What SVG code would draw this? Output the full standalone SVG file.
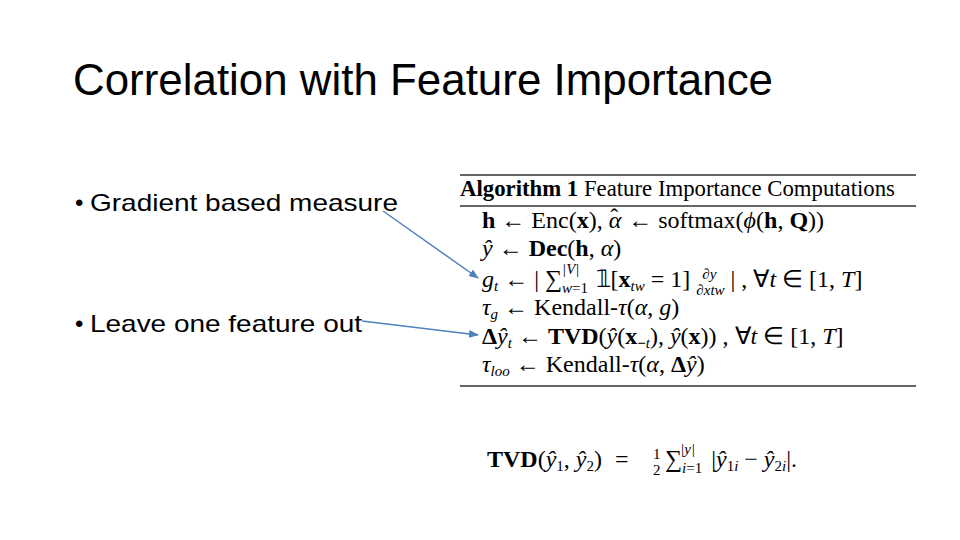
<svg xmlns="http://www.w3.org/2000/svg" width="960" height="540" viewBox="0 0 960 540">
<style>
.s{font-family:"Liberation Sans",Arial,sans-serif;fill:#000}
.m{font-family:"Liberation Serif","Times New Roman",serif;fill:#000;font-size:24px}
.i{font-style:italic}
.b{font-weight:bold}
.sub{font-size:15px}
.rule{stroke:#333;stroke-width:1.5}
.conn{stroke:#4f81bd;stroke-width:1.5;fill:none;marker-end:url(#ah)}
</style>
<defs>
<marker id="ah" markerWidth="10" markerHeight="8" refX="9" refY="4" orient="auto" markerUnits="userSpaceOnUse">
<path d="M0,0 L10,4 L0,8 Z" fill="#4f81bd"/>
</marker>
</defs>
<rect width="960" height="540" fill="#fff"/>
<g id="title"><text class="s" x="73" y="95" font-size="44" textLength="700" lengthAdjust="spacingAndGlyphs">Correlation with Feature Importance</text></g>
<g id="bullet1"><text class="s" x="75" y="211" font-size="24">•</text><text class="s" x="90" y="211" font-size="24" textLength="308" lengthAdjust="spacingAndGlyphs">Gradient based measure</text></g>
<g id="bullet2"><text class="s" x="75" y="332" font-size="24">•</text><text class="s" x="90" y="332" font-size="24" textLength="272" lengthAdjust="spacingAndGlyphs">Leave one feature out</text></g>
<g id="algorithm">
<line class="rule" x1="460" y1="175" x2="916" y2="175"/>
<line class="rule" x1="460" y1="206" x2="916" y2="206"/>
<line class="rule" x1="460" y1="386" x2="916" y2="386"/>
<text class="m" x="460" y="196" font-size="21" textLength="435" lengthAdjust="spacingAndGlyphs"><tspan class="b">Algorithm 1</tspan> Feature Importance Computations</text>
<text class="m" x="482" y="228"><tspan class="b">h</tspan> ← Enc(<tspan class="b">x</tspan>), <tspan class="i">α</tspan><tspan dx="-11" dy="-3">ˆ</tspan><tspan dx="4" dy="3"> ← softmax(</tspan><tspan class="i">ϕ</tspan>(<tspan class="b">h</tspan>, <tspan class="b">Q</tspan>))</text>
<text class="m" x="482" y="256"><tspan class="i">ŷ</tspan> ← <tspan class="b">Dec</tspan>(<tspan class="b">h</tspan>, <tspan class="i">α</tspan>)</text>
<text class="m" x="482" y="287"><tspan class="i">g</tspan><tspan class="sub i" dy="4">t</tspan><tspan dy="-4"> ← | ∑</tspan><tspan class="sub i" dy="6">w</tspan><tspan class="sub">=1</tspan><tspan class="sub i" dx="-26" dy="-19">|V|</tspan><tspan dx="10" dy="13"> 𝟙[</tspan><tspan class="b">x</tspan><tspan class="sub i" dy="4">tw</tspan><tspan dy="-4"> = 1] </tspan><tspan class="sub i" dx="6" dy="-8">∂y</tspan><tspan class="sub i" dx="-20" dy="16">∂x</tspan><tspan class="sub i">tw</tspan><tspan dy="-8"> | , ∀</tspan><tspan class="i">t</tspan> ∈ [1, <tspan class="i">T</tspan>]</text>
<text class="m" x="482" y="315"><tspan class="i">τ</tspan><tspan class="sub i" dy="4">g</tspan><tspan dy="-4"> ← Kendall-</tspan><tspan class="i">τ</tspan>(<tspan class="i">α</tspan>, <tspan class="i">g</tspan>)</text>
<text class="m" x="482" y="344"><tspan class="b">Δ</tspan><tspan class="i">ŷ</tspan><tspan class="sub i" dy="4">t</tspan><tspan dy="-4"> ← </tspan><tspan class="b">TVD</tspan>(<tspan class="i">ŷ</tspan>(<tspan class="b">x</tspan><tspan class="sub" dy="4"><tspan class="b">−</tspan><tspan class="i">t</tspan></tspan><tspan dy="-4">), </tspan><tspan class="i">ŷ</tspan>(<tspan class="b">x</tspan>)) , ∀<tspan class="i">t</tspan> ∈ [1, <tspan class="i">T</tspan>]</text>
<text class="m" x="482" y="372"><tspan class="i">τ</tspan><tspan class="sub i" dy="4">loo</tspan><tspan dy="-4"> ← Kendall-</tspan><tspan class="i">τ</tspan>(<tspan class="i">α</tspan>, <tspan class="b">Δ</tspan><tspan class="i">ŷ</tspan>)</text>
</g>
<g id="tvd">
<text class="m" x="487" y="467" font-size="20"><tspan class="b">TVD</tspan>(<tspan class="i">ŷ</tspan><tspan class="sub" dy="4">1</tspan><tspan dy="-4">, </tspan><tspan class="i">ŷ</tspan><tspan class="sub" dy="4">2</tspan><tspan dy="-4">)</tspan><tspan x="615">=</tspan><tspan class="sub" x="653" dy="-8">1</tspan><tspan class="sub" x="653" dy="16">2</tspan><tspan x="665" dy="-8">∑</tspan><tspan class="sub i" dy="6">i</tspan><tspan class="sub">=1</tspan><tspan class="sub i" dx="-22" dy="-19">|y|</tspan><tspan dx="10" dy="13"> |</tspan><tspan class="i">ŷ</tspan><tspan class="sub" dy="4">1<tspan class="i">i</tspan></tspan><tspan dy="-4"> − </tspan><tspan class="i">ŷ</tspan><tspan class="sub" dy="4">2<tspan class="i">i</tspan></tspan><tspan dy="-4">|.</tspan></text>
</g>
<g id="connectors">
<line class="conn" x1="383" y1="211" x2="478" y2="278"/>
<line class="conn" x1="362" y1="321" x2="478" y2="335"/>
</g>
</svg>
